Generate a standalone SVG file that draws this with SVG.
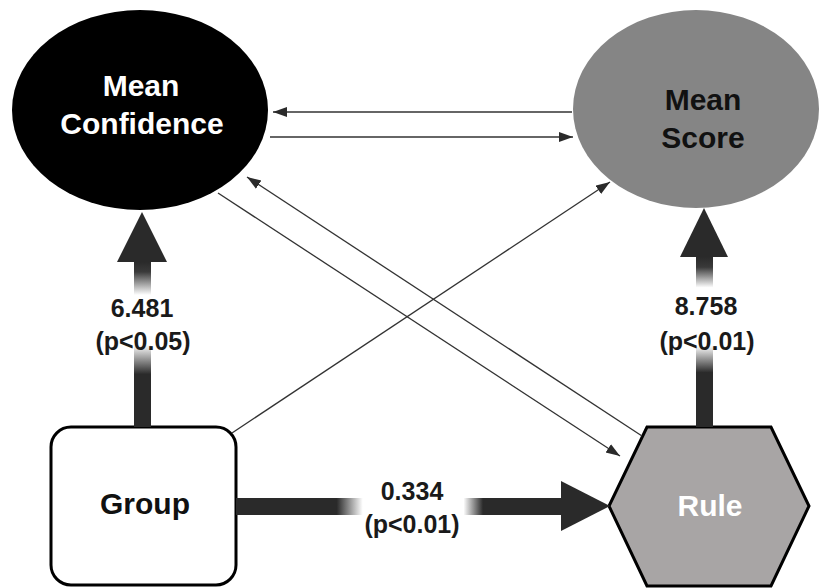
<svg xmlns="http://www.w3.org/2000/svg" width="819" height="588" viewBox="0 0 819 588">
<style>
.node-text{font-family:"Liberation Sans",Arial,sans-serif;font-weight:bold;font-size:30px;text-anchor:middle}
.lbl{font-family:"Liberation Sans",Arial,sans-serif;font-weight:bold;font-size:25px;text-anchor:middle;fill:#1a1a1a}
.thin{stroke:#333;stroke-width:1.3;fill:none;marker-end:url(#ah)}
.head{fill:#2a2a2a}
</style>
<defs>
<marker id="ah" markerUnits="userSpaceOnUse" markerWidth="15" markerHeight="11" refX="14" refY="5" orient="auto">
<path d="M0,0 L14,5 L0,10 z" fill="#2a2a2a"/>
</marker>
<linearGradient id="gL" gradientUnits="userSpaceOnUse" x1="0" y1="262" x2="0" y2="427">
<stop offset="0" stop-color="#2a2a2a"/>
<stop offset="0.06" stop-color="#3a3a3a"/>
<stop offset="0.2" stop-color="#ffffff"/>
<stop offset="0.5" stop-color="#ffffff"/>
<stop offset="0.68" stop-color="#2a2a2a"/>
<stop offset="1" stop-color="#2a2a2a"/>
</linearGradient>
<linearGradient id="gR" gradientUnits="userSpaceOnUse" x1="0" y1="257" x2="0" y2="427">
<stop offset="0" stop-color="#2a2a2a"/>
<stop offset="0.06" stop-color="#3a3a3a"/>
<stop offset="0.18" stop-color="#ffffff"/>
<stop offset="0.52" stop-color="#ffffff"/>
<stop offset="0.68" stop-color="#2a2a2a"/>
<stop offset="1" stop-color="#2a2a2a"/>
</linearGradient>
<linearGradient id="gH" gradientUnits="userSpaceOnUse" x1="236" y1="0" x2="561" y2="0">
<stop offset="0" stop-color="#2a2a2a"/>
<stop offset="0.31" stop-color="#2a2a2a"/>
<stop offset="0.39" stop-color="#ffffff"/>
<stop offset="0.7" stop-color="#ffffff"/>
<stop offset="0.76" stop-color="#2a2a2a"/>
<stop offset="1" stop-color="#2a2a2a"/>
</linearGradient>
</defs>
<rect width="819" height="588" fill="#ffffff"/>

<g id="mean-confidence">
<ellipse cx="140" cy="110" rx="128" ry="100" fill="#000000"/>
<text class="node-text" x="141" y="96" fill="#ffffff">Mean</text>
<text class="node-text" x="142" y="134" fill="#ffffff">Confidence</text>
</g>

<g id="mean-score">
<ellipse cx="696" cy="109" rx="123" ry="99" fill="#858585"/>
<text class="node-text" x="703" y="110" fill="#111111">Mean</text>
<text class="node-text" x="703" y="148" fill="#111111">Score</text>
</g>

<g id="group">
<rect x="51" y="427" width="185" height="158" rx="20" ry="20" fill="#ffffff" stroke="#000000" stroke-width="3"/>
<text class="node-text" x="145" y="514" fill="#111111">Group</text>
</g>

<g id="rule">
<polygon points="647,427 771,427 809,506 771,586 647,586 609,506" fill="#a8a5a5" stroke="#000000" stroke-width="3" stroke-linejoin="miter"/>
<text class="node-text" x="710" y="516" fill="#ffffff">Rule</text>
</g>

<g id="connectors">
<line class="thin" x1="572" y1="112" x2="273" y2="112"/>
<line class="thin" x1="270" y1="137" x2="573" y2="137"/>
<line class="thin" x1="218" y1="193" x2="620" y2="456"/>
<line class="thin" x1="642" y1="436" x2="247" y2="177"/>
<line class="thin" x1="232" y1="433" x2="610" y2="182"/>

<rect x="134" y="261" width="17" height="166" fill="url(#gL)"/>
<polygon class="head" points="142,212 167,262 117,262"/>
<rect x="696" y="256" width="17" height="171" fill="url(#gR)"/>
<polygon class="head" points="704,208 728,257 680,257"/>
<rect x="236" y="498" width="326" height="17" fill="url(#gH)"/>
<polygon class="head" points="610,506 561,481 561,531"/>

<text class="lbl" x="142" y="317">6.481</text>
<text class="lbl" x="143" y="350">(p&lt;0.05)</text>
<text class="lbl" x="706" y="315">8.758</text>
<text class="lbl" x="707" y="350">(p&lt;0.01)</text>
<text class="lbl" x="412" y="500">0.334</text>
<text class="lbl" x="412" y="533">(p&lt;0.01)</text>
</g>
</svg>
